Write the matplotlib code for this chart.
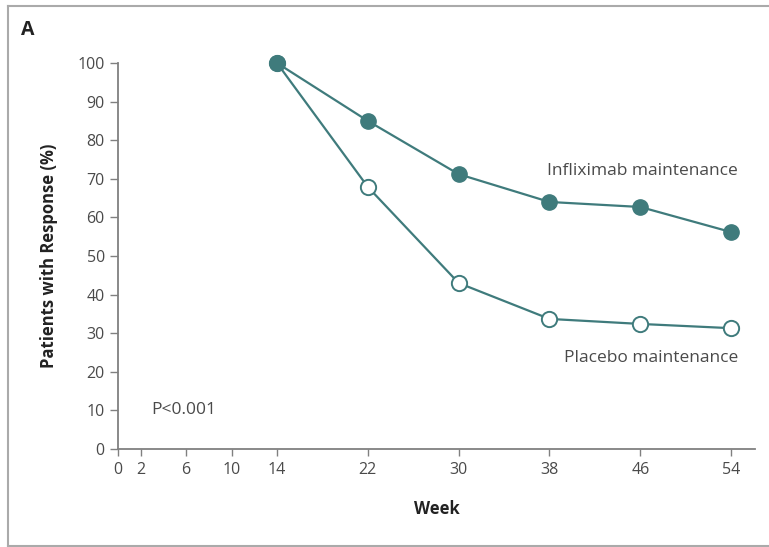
import matplotlib.pyplot as plt
from matplotlib.lines import Line2D

plt.rcParams['font.family'] = ['Open Sans', 'DejaVu Sans']

# data
weeks = [14, 22, 30, 38, 46, 54]
infliximab = [100, 85.0, 71.2, 64.0, 62.7, 56.2]
placebo = [100, 67.9, 43.0, 33.7, 32.4, 31.3]
xticks = [0, 2, 6, 10, 14, 22, 30, 38, 46, 54]
yticks = list(range(0, 101, 10))

teal = '#3f7b7c'
grey = '#808080'
txt = '#4a4a4a'

W, H = 769, 547
fig = plt.figure(figsize=(W / 100, H / 100), dpi=100)
ax = fig.add_axes([118 / W, 1 - 449 / H, (755 - 118) / W, (449 - 63) / H])

ax.plot(weeks, placebo, color=teal, lw=1.6, marker='o', ms=11,
        mfc='white', mec=teal, mew=1.4, clip_on=False, zorder=3)
ax.plot(weeks, infliximab, color=teal, lw=1.6, marker='o', ms=11,
        mfc=teal, mec=teal, clip_on=False, zorder=4)

ax.set_xlim(0, 56.1)
ax.set_ylim(0, 100)
ax.set_xticks(xticks)
ax.set_yticks(yticks)
ax.tick_params(axis='both', colors=grey, labelcolor=txt, labelsize=11.5,
               length=6, width=1)
ax.tick_params(axis='x', pad=4, length=5)
for s in ['top', 'right']:
    ax.spines[s].set_visible(False)
for s in ['left', 'bottom']:
    ax.spines[s].set_color(grey)
    ax.spines[s].set_linewidth(1.3)

ax.set_ylabel('Patients with Response (%)', fontsize=12, fontweight='bold',
              color='#222222', labelpad=14)
ax.set_xlabel('Week', fontsize=12, fontweight='bold', color='#222222',
              labelpad=16)

ax.text(54.6, 72, 'Infliximab maintenance', ha='right', va='center',
        fontsize=12.5, color=txt)
ax.text(54.6, 23.5, 'Placebo maintenance', ha='right', va='center',
        fontsize=12.5, color=txt)
ax.text(2.9, 10, 'P<0.001', ha='left', va='center', fontsize=12.5, color=txt)

fig.text(21 / W, 1 - 30 / H, 'A', fontsize=14, fontweight='bold',
         color='#222222', va='center', ha='left')

# outer frame (top, left, bottom)
for xs, ys in [([8, W], [6, 6]), ([8, 8], [6, 546]), ([8, W], [546, 546])]:
    fig.add_artist(Line2D([x / W for x in xs], [1 - y / H for y in ys],
                          color='#aaaaaa', lw=1.5))

fig.savefig('out.png', dpi=100)
